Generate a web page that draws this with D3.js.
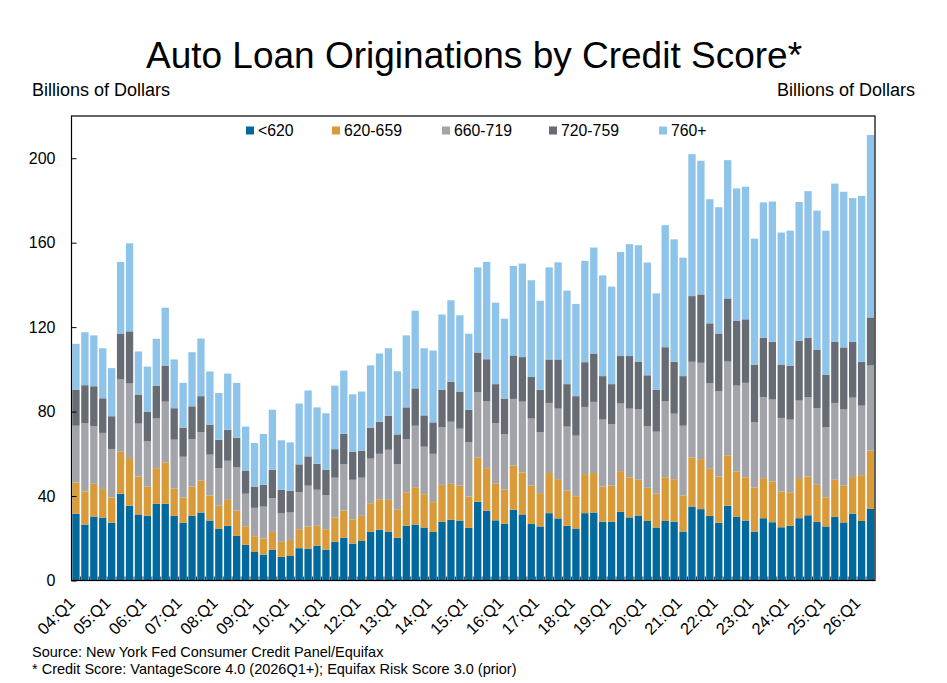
<!DOCTYPE html>
<html><head><meta charset="utf-8">
<script src="https://cdn.jsdelivr.net/npm/d3@7"></script>
<style>
html,body{margin:0;padding:0;background:#fff;}
svg{display:block;font-family:"Liberation Sans",Arial,Helvetica,sans-serif;}
</style></head><body>
<svg id="chart" width="947" height="683"></svg>
<script>
const categories = [
"04:Q1","04:Q2","04:Q3","04:Q4","05:Q1","05:Q2","05:Q3","05:Q4","06:Q1","06:Q2","06:Q3","06:Q4",
"07:Q1","07:Q2","07:Q3","07:Q4","08:Q1","08:Q2","08:Q3","08:Q4","09:Q1","09:Q2","09:Q3","09:Q4",
"10:Q1","10:Q2","10:Q3","10:Q4","11:Q1","11:Q2","11:Q3","11:Q4","12:Q1","12:Q2","12:Q3","12:Q4",
"13:Q1","13:Q2","13:Q3","13:Q4","14:Q1","14:Q2","14:Q3","14:Q4","15:Q1","15:Q2","15:Q3","15:Q4",
"16:Q1","16:Q2","16:Q3","16:Q4","17:Q1","17:Q2","17:Q3","17:Q4","18:Q1","18:Q2","18:Q3","18:Q4",
"19:Q1","19:Q2","19:Q3","19:Q4","20:Q1","20:Q2","20:Q3","20:Q4","21:Q1","21:Q2","21:Q3","21:Q4",
"22:Q1","22:Q2","22:Q3","22:Q4","23:Q1","23:Q2","23:Q3","23:Q4","24:Q1","24:Q2","24:Q3","24:Q4",
"25:Q1","25:Q2","25:Q3","25:Q4","26:Q1","26:Q2"];

const tickLabels = ["04:Q1","05:Q1","06:Q1","07:Q1","08:Q1","09:Q1","10:Q1","11:Q1","12:Q1","13:Q1","14:Q1",
"15:Q1","16:Q1","17:Q1","18:Q1","19:Q1","20:Q1","21:Q1","22:Q1","23:Q1","24:Q1","25:Q1","26:Q1"];

const yTicks = [0, 40, 80, 120, 160, 200];

const seriesNames = ["<620", "620-659", "660-719", "720-759", "760+"];

const below620 = [
31.6,26.5,30.3,29.8,27.4,41.1,35.4,31.3,30.6,36.3,
36.3,30.6,27.4,30.6,32.2,28.4,24.4,25.9,21.1,16.9,
13.5,12.3,14.5,11.2,11.6,15.3,15.1,16.5,14.6,18.3,
20.2,17.5,18.7,23.0,24.1,23.2,20.2,25.9,26.5,25.1,
23.0,27.8,28.7,28.2,24.9,37.3,33.1,28.5,26.8,33.5,
31.3,26.8,25.6,31.9,29.4,25.9,24.4,31.9,32.2,27.8,
27.8,32.5,29.9,30.8,28.2,25.1,28.2,27.9,23.2,35.0,
33.8,30.6,27.4,35.4,30.1,28.4,23.2,29.5,27.6,25.2,
25.9,29.5,30.9,27.8,25.6,30.1,27.5,31.6,28.2,33.9];

const s620_659 = [
14.8,15.7,15.5,13.5,11.9,19.9,22.6,18.0,13.9,16.9,
19.6,13.0,11.9,13.9,15.2,11.9,11.0,12.3,12.0,8.8,
7.5,7.6,8.5,7.1,7.6,9.0,10.5,9.4,9.7,11.6,
12.9,11.5,11.9,13.6,14.4,15.0,13.3,15.9,17.7,15.8,
14.1,17.5,17.1,16.7,14.9,21.0,20.1,17.3,16.2,20.9,
19.9,18.1,15.8,19.0,18.6,16.7,15.5,18.5,18.7,16.7,
17.1,19.3,19.0,16.9,15.7,16.0,20.7,20.1,17.1,23.3,
23.7,22.3,21.8,23.9,21.5,20.5,20.9,19.0,19.3,17.0,
15.9,19.0,18.4,17.5,13.8,17.6,17.4,17.4,21.7,27.7];

const s660_719 = [
26.9,32.4,27.2,26.6,23.0,34.2,35.3,25.0,21.4,23.5,
28.8,23.1,19.3,22.5,22.8,19.3,17.8,18.5,20.5,15.4,
13.4,15.1,16.0,13.6,13.0,17.5,19.3,17.1,16.1,18.8,
22.0,18.7,18.1,21.1,21.5,23.7,21.6,25.2,29.1,22.5,
22.9,27.4,29.4,27.0,25.6,30.9,31.8,28.8,26.4,31.6,
33.5,31.8,28.8,33.2,33.4,30.3,28.7,31.8,33.7,31.7,
29.1,32.0,32.5,33.5,29.1,29.4,36.1,31.0,33.0,45.3,
45.6,40.5,40.4,44.4,40.7,44.7,30.8,38.3,38.8,34.8,
34.4,36.7,37.5,36.4,33.3,36.4,36.1,37.6,32.9,40.2];

const s720_759 = [
17.1,17.9,19.0,16.4,15.5,21.8,24.7,13.8,14.1,15.6,
17.1,14.9,13.8,15.5,17.1,14.2,13.5,14.7,14.0,11.0,
10.1,10.3,13.5,11.0,10.3,13.2,13.9,12.3,12.1,13.5,
14.4,13.3,12.8,14.7,15.2,16.2,14.1,15.0,17.7,14.8,
14.9,17.7,18.9,17.6,15.5,18.8,19.8,18.4,16.8,20.6,
21.1,19.7,20.2,20.6,23.3,20.1,18.7,21.2,22.9,20.6,
19.0,22.5,24.9,22.5,24.2,19.9,25.5,24.6,23.5,31.1,
32.4,28.4,27.4,29.9,30.6,30.1,27.2,28.2,27.4,25.3,
25.6,28.4,28.1,27.7,24.8,28.9,29.4,26.4,20.8,22.8];

const s760plus = [
21.7,25.1,24.1,23.7,22.8,33.9,41.7,20.4,21.3,22.2,
27.4,23.1,21.2,25.6,27.3,25.2,22.1,26.6,26.0,20.8,
20.6,24.1,28.4,23.5,22.9,28.8,31.2,26.7,26.7,30.1,
29.9,27.2,28.0,29.5,32.3,31.9,29.9,34.1,36.8,31.8,
34.0,35.6,38.6,36.1,36.0,40.3,46.1,38.6,37.8,42.4,
44.3,45.8,42.1,43.6,46.0,44.3,43.7,48.0,50.2,47.7,
46.2,49.3,53.0,55.1,53.4,45.6,57.8,58.0,56.1,67.2,
63.3,58.8,59.8,65.5,62.8,62.8,59.8,64.1,66.4,62.5,
63.9,65.7,69.5,65.8,68.2,75.0,73.7,68.1,78.6,86.4];

const seriesValues = [below620, s620_659, s660_719, s720_759, s760plus];
const colors = ["#01699e", "#d99b39", "#a2a4a9", "#676b73", "#8ec3ea"];

// ---- layout ----
const plot = {left: 71.5, right: 875, top: 116, bottom: 580.5};

const svg = d3.select("#chart");

const x = d3.scaleBand().domain(categories).range([plot.left, plot.right])
  .paddingInner(0.18).paddingOuter(0.09);
const y = d3.scaleLinear().domain([0, 220]).range([plot.bottom, plot.top]);

const rows = categories.map((c, i) => {
  const r = {cat: c};
  seriesNames.forEach((s, k) => r[s] = seriesValues[k][i]);
  return r;
});
const stacked = d3.stack().keys(seriesNames)(rows);

svg.append("g").selectAll("g").data(stacked).join("g")
  .attr("fill", (d, i) => colors[i])
  .selectAll("rect").data(d => d).join("rect")
  .attr("x", d => x(d.data.cat))
  .attr("width", x.bandwidth())
  .attr("y", d => y(d[1]))
  .attr("height", d => y(d[0]) - y(d[1]));

// y axis (ticks inward)
const yAxis = d3.axisLeft(y).tickValues(yTicks).tickSize(-5).tickPadding(16).tickFormat(d3.format("d"));
const gy = svg.append("g").attr("transform", `translate(${plot.left},0)`).call(yAxis);
gy.select(".domain").remove();
gy.selectAll(".tick line").attr("stroke", "#000").attr("stroke-width", 1);
gy.selectAll(".tick text").attr("font-size", 16).attr("fill", "#000")
  .attr("font-family", '"Liberation Sans",Arial,sans-serif');

// x ticks at category boundaries (inward)
const gap = x.step() - x.bandwidth();
const bounds = categories.slice(0, -1).map(c => x(c) + x.bandwidth() + gap / 2);
svg.append("g").selectAll("line").data(bounds).join("line")
  .attr("x1", d => d).attr("x2", d => d)
  .attr("y1", plot.bottom).attr("y2", plot.bottom - 4)
  .attr("stroke", "#333").attr("stroke-width", 1);

// x tick labels
svg.append("g").selectAll("text").data(tickLabels).join("text")
  .attr("transform", d => `translate(${x(d) + x.bandwidth() / 2},${604}) rotate(-45)`)
  .attr("text-anchor", "end")
  .attr("font-size", 16.5)
  .attr("fill", "#000")
  .text(d => d);

// frame
svg.append("rect")
  .attr("x", plot.left).attr("y", plot.top)
  .attr("width", plot.right - plot.left).attr("height", plot.bottom - plot.top)
  .attr("fill", "none").attr("stroke", "#000").attr("stroke-width", 1.2);

// title
svg.append("text").attr("x", 474).attr("y", 68).attr("text-anchor", "middle")
  .attr("font-size", 37).attr("fill", "#000")
  .text("Auto Loan Originations by Credit Score*");

svg.append("text").attr("x", 32).attr("y", 96).attr("font-size", 18).attr("fill", "#000")
  .text("Billions of Dollars");
svg.append("text").attr("x", 915).attr("y", 96).attr("text-anchor", "end").attr("font-size", 18).attr("fill", "#000")
  .text("Billions of Dollars");

// legend
const legendX = [246, 332, 442, 549, 659];
const lg = svg.append("g").selectAll("g").data(seriesNames).join("g")
  .attr("transform", (d, i) => `translate(${legendX[i]},126.5)`);
lg.append("rect").attr("width", 8).attr("height", 8).attr("fill", (d, i) => colors[i]);
lg.append("text").attr("x", 12).attr("y", 9.5).attr("font-size", 15.8).attr("fill", "#000").text(d => d);

// source notes
svg.append("text").attr("x", 32).attr("y", 657).attr("font-size", 14.5).attr("fill", "#000")
  .text("Source: New York Fed Consumer Credit Panel/Equifax");
svg.append("text").attr("x", 32).attr("y", 674).attr("font-size", 14.5).attr("fill", "#000")
  .text("* Credit Score: VantageScore 4.0 (2026Q1+); Equifax Risk Score 3.0 (prior)");
</script>
</body></html>
